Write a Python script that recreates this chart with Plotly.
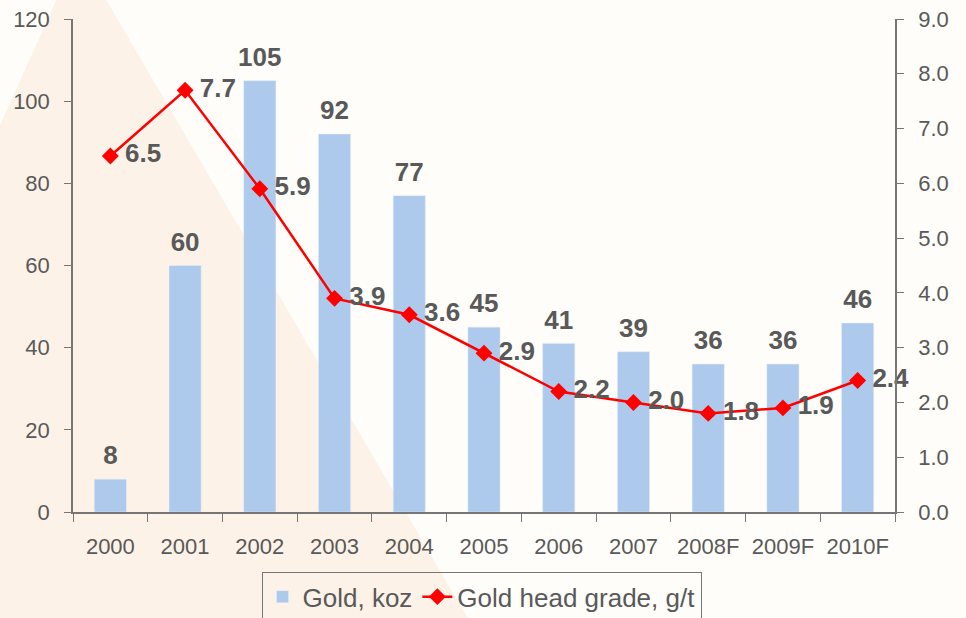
import plotly.graph_objects as go

years = ['2000', '2001', '2002', '2003', '2004', '2005', '2006', '2007', '2008F', '2009F', '2010F']
gold_koz = [8, 60, 105, 92, 77, 45, 41, 39, 36, 36, 46]
head_grade = [6.5, 7.7, 5.9, 3.9, 3.6, 2.9, 2.2, 2.0, 1.8, 1.9, 2.4]

grey = '#595959'
axis_grey = '#767676'
font = 'Liberation Sans, Arial, sans-serif'
label_font = dict(size=26, color=grey, family=font, weight='bold')

fig = go.Figure()
fig.add_trace(go.Bar(
    x=years, y=gold_koz, name='Gold, koz',
    marker_color='#adc9ec', width=0.43,
))
fig.add_trace(go.Scatter(
    x=years, y=head_grade, name='Gold head grade, g/t', yaxis='y2',
    mode='lines+markers',
    line=dict(color='#ff0000', width=2.5),
    marker=dict(symbol='diamond', size=13, color='#ff0000'),
))
# value labels (invisible markers push the text away from the data point)
fig.add_trace(go.Scatter(
    x=years, y=gold_koz, mode='markers+text', showlegend=False, hoverinfo='skip',
    marker=dict(size=12, opacity=0), text=[str(v) for v in gold_koz],
    textposition='top center', textfont=label_font, cliponaxis=False,
))
fig.add_trace(go.Scatter(
    x=years, y=head_grade, yaxis='y2', mode='markers+text', showlegend=False, hoverinfo='skip',
    marker=dict(size=22, opacity=0), text=[f'{v:.1f}' for v in head_grade],
    textposition='middle right', textfont=label_font, cliponaxis=False,
))

# faint peach triangle in the background
fig.add_shape(type='path', xref='paper', yref='paper', layer='below',
              path='M -0.02 1.04 L 0.04 1.04 L 0.48 -0.215 L -0.09 -0.215 L -0.09 0.78 Z',
              fillcolor='rgba(250,205,170,0.22)', line_width=0)

tickfont = dict(size=22, color=grey, family=font)
common = dict(showgrid=False, zeroline=False, automargin=False)
fig.update_layout(
    width=966, height=618,
    margin=dict(l=73, r=71, t=19, b=106),
    paper_bgcolor='#fefdf9', plot_bgcolor='rgba(0,0,0,0)',
    font=dict(family=font, color=grey),
    showlegend=True,
    legend=dict(orientation='h', x=0.497, xanchor='center',
                yref='container', y=0.074, yanchor='top',
                bordercolor=axis_grey, borderwidth=1, bgcolor='rgba(0,0,0,0)',
                font=dict(size=26, color=grey, family=font), traceorder='normal'),
    xaxis=dict(type='category', range=[-0.5, 10.5], showline=True, linecolor=axis_grey,
               linewidth=1.5, ticks='outside', tickson='boundaries', ticklen=8,
               tickcolor=axis_grey, tickfont=tickfont, tickangle=0, ticklabelstandoff=14,
               **common),
    yaxis=dict(range=[0, 120], dtick=20, showline=True, linecolor=axis_grey, linewidth=1.5,
               ticks='outside', ticklen=7, tickcolor=axis_grey, tickfont=tickfont,
               ticklabelstandoff=10, **common),
    yaxis2=dict(range=[0, 9], dtick=1, tickformat='.1f', overlaying='y', side='right',
                showline=True, linecolor=axis_grey, linewidth=1.5,
                ticks='outside', ticklen=7, tickcolor=axis_grey, tickfont=tickfont,
                ticklabelstandoff=10, **common),
    # inside halves of the crossing tick marks
    xaxis2=dict(overlaying='x', anchor='y', range=[-0.5, 10.5], showline=False,
                tickvals=[i - 0.5 for i in range(12)], ticks='inside', ticklen=7,
                tickcolor=axis_grey, showticklabels=False, **common),
    yaxis3=dict(overlaying='y', side='left', anchor='x', range=[0, 120], dtick=20, showline=False,
                ticks='inside', ticklen=7, tickcolor=axis_grey, showticklabels=False, **common),
    yaxis4=dict(overlaying='y', side='right', anchor='x', range=[0, 9], dtick=1, showline=False,
                ticks='inside', ticklen=7, tickcolor=axis_grey, showticklabels=False, **common),
)

fig.write_html('out.html', post_script="document.body.style.margin='0';",
               config={'displayModeBar': False})
